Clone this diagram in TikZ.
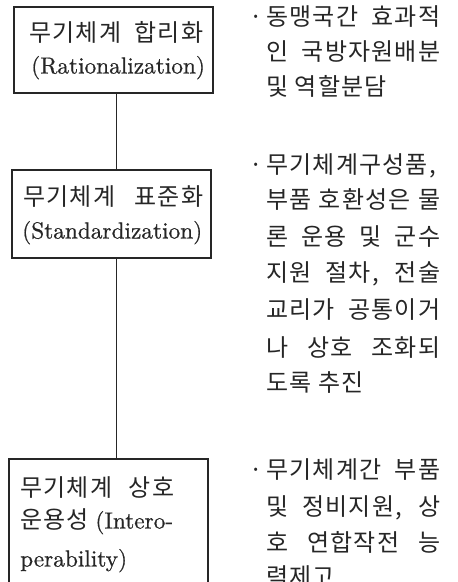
\documentclass[tikz,border=0pt]{standalone}
\usepackage{fontspec}
\newfontfamily\kr{Noto Sans CJK KR}[LetterSpace=5]
\newfontfamily\lat{lmroman10-regular}[Extension=.otf, FakeBold=0.6]
\newcommand{\jline}[2][174pt]{\makebox[#1][s]{#2}}
\newcommand{\lline}[2][174pt]{\makebox[#1][l]{#2}}
\begin{document}
\begin{tikzpicture}[x=1pt,y=-1pt,
  box/.style={draw=black!85, line width=1.2pt, fill=none, inner sep=0pt},
  kt/.style={inner sep=0pt, anchor=base west, text=black!85, font=\kr\fontsize{24}{28}\selectfont},
  lt/.style={inner sep=0pt, anchor=base west, text=black!85, font=\lat\fontsize{23.3}{28}\selectfont},
  conn/.style={draw=black!85, line width=1.3pt}]
\useasboundingbox (0,0) rectangle (458,582);
\clip (0,0) rectangle (458,582);
% boxes
\node[box, minimum width=199pt, minimum height=86pt] (b1) at (113.5,50) {};
\node[box, minimum width=199pt, minimum height=88pt] (b2) at (111.5,214) {};
\node[box, minimum width=199pt, minimum height=170pt] (b3) at (108.5,544) {};
% connectors
\coordinate (cx) at (116.5,0);
\draw[conn] (cx |- b1.south) -- (cx |- b2.north);
\draw[conn] (cx |- b2.south) -- (cx |- b3.north);
% box texts
\node[kt] (t11) at (29,41.5) {\jline[174pt]{무기체계 합리화}};
\node[lt] (t12) at (31,73.5) {(Rationalization)};
\node[kt] (t21) at (23,205.5) {\jline[180pt]{무기체계 표준화}};
\node[lt] (t22) at (22,238.5) {(Standardization)};
\node[kt] (t31) at (20,496.5) {\jline[154pt]{무기체계 상호}};
\node[kt] (t32) at (20,528.5) {운용성 {\lat\fontsize{23.3}{28}\selectfont(Intero-}};
\node[lt] (t33) at (20,566.5) {perability)};
% right column, block 1
\node[kt] (r11) at (249,25.5) {\lline[17pt]{·}\jline{동맹국간 효과적}};
\node[kt] (r12) at (266,60.5) {\jline{인 국방자원배분}};
\node[kt] (r13) at (266,95.5) {\lline{및 역할분담}};
% block 2
\node[kt] (r21) at (249,173.5) {\lline[17pt]{·}\lline{무기체계구성품,}};
\node[kt] (r22) at (266,208.5) {\jline{부품 호환성은 물}};
\node[kt] (r23) at (266,245.5) {\jline{론 운용 및 군수}};
\node[kt] (r24) at (266,281.5) {\jline{지원 절차, 전술}};
\node[kt] (r25) at (266,318.5) {\jline{교리가 공통이거}};
\node[kt] (r26) at (266,356.5) {\jline{나 상호 조화되}};
\node[kt] (r27) at (266,391.5) {\lline{도록 추진}};
% block 3
\node[kt] (r31) at (249,478.5) {\lline[17pt]{·}\jline{무기체계간 부품}};
\node[kt] (r32) at (266,515.5) {\jline{및 정비지원, 상}};
\node[kt] (r33) at (266,551.5) {\jline{호 연합작전 능}};
\node[kt] (r34) at (266,585.5) {\lline{력제고}};
\end{tikzpicture}
\end{document}
